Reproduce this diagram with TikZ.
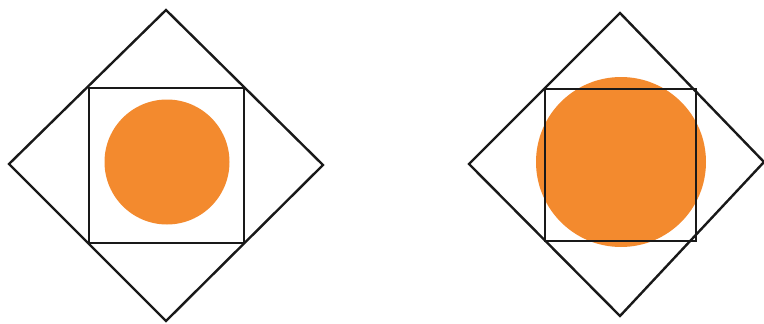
\documentclass[tikz,border=0pt]{standalone}
\definecolor{dotorange}{RGB}{243,138,46}
\tikzset{outline/.style={draw=black!90,line width=2.4pt,line join=miter},
  disc/.style={fill=dotorange,draw=none}}
\begin{document}
\begin{tikzpicture}[x=1pt,y=-1pt]
\useasboundingbox (0,0) rectangle (764,324);
% left figure
\fill[disc] (167,162) circle (62.5);
\draw[outline] (166,10) -- (323,165) -- (166,321) -- (9,164) -- cycle;
\draw[outline] (89,88) rectangle (244,243);
% right figure
\fill[disc] (621,162) circle (85);
\draw[outline] (620,13) -- (764,162) -- (620,316) -- (469,164) -- cycle;
\draw[outline] (545,89) rectangle (696,241);
\end{tikzpicture}
\end{document}
